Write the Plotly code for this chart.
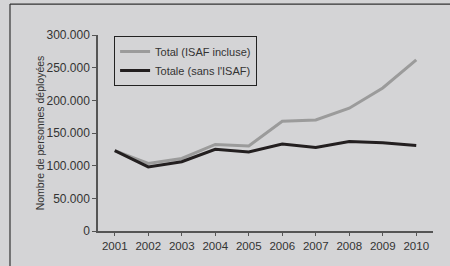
import plotly.graph_objects as go

years = [2001, 2002, 2003, 2004, 2005, 2006, 2007, 2008, 2009, 2010]
total_isaf = [123000, 103500, 111000, 132500, 130000, 168000, 170000, 188000, 219000, 262000]
total_sans = [123000, 98000, 106000, 125000, 121000, 133000, 128000, 137000, 135000, 131000]
y_ticks = [0, 50000, 100000, 150000, 200000, 250000, 300000]
names = ["Total (ISAF incluse)", "Totale (sans l'ISAF)"]

BG = "#d4d4d6"
fig = go.Figure()
fig.add_trace(go.Scatter(x=years, y=total_isaf, mode="lines", name=names[0],
                         line=dict(color="#9b9b9b", width=3)))
fig.add_trace(go.Scatter(x=years, y=total_sans, mode="lines", name=names[1],
                         line=dict(color="#231f20", width=3)))

fig.update_layout(
    width=450, height=266,
    margin=dict(l=98, r=17, t=35, b=35),
    paper_bgcolor=BG, plot_bgcolor=BG,
    separators=",.",
    font=dict(family="Liberation Sans, Arial, sans-serif", size=11, color="#333333"),
    showlegend=True,
    legend=dict(x=0.048, y=0.995, xanchor="left", yanchor="top",
                bgcolor="rgba(0,0,0,0)", bordercolor="#222222", borderwidth=1,
                font=dict(size=11, color="#333333"), tracegroupgap=0),
    xaxis=dict(range=[2000.5, 2010.5], tickvals=years, ticktext=[str(y) for y in years],
               showgrid=False, zeroline=False, showline=True, linecolor="#555555", linewidth=1.5,
               ticks="outside", ticklen=3, tickcolor="#555555", tickfont=dict(size=11.5)),
    yaxis=dict(range=[0, 300000], tickvals=y_ticks, tickformat=",d",
               showgrid=False, zeroline=False, showline=True, linecolor="#555555", linewidth=1.5,
               ticks="outside", ticklen=4, tickcolor="#555555", tickfont=dict(size=12),
               title=dict(text="Nombre de personnes déployées", font=dict(size=10.5, color="#333333"),
                          standoff=0)),
    shapes=[
        dict(type="line", xref="paper", yref="paper", x0=-0.2627, x1=1.06, y0=1.158, y1=1.158,
             line=dict(color="#333333", width=1.2), layer="below"),
        dict(type="line", xref="paper", yref="paper", x0=-0.2627, x1=-0.2627, y0=-0.19, y1=1.158,
             line=dict(color="#333333", width=1.2), layer="below"),
    ],
)

fig.write_html("out.html", config={"displayModeBar": False},
               post_script="document.body.style.margin='0';document.body.style.overflow='hidden';"
                           "document.documentElement.style.background='%s';"
                           "document.body.style.background='%s';" % (BG, BG))
